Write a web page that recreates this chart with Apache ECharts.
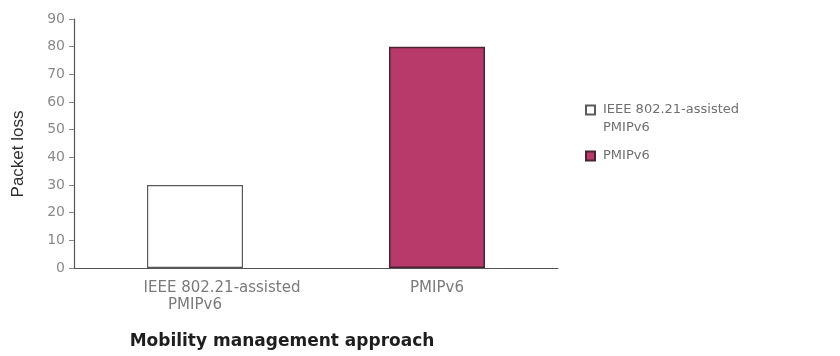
<!DOCTYPE html>
<html>
<head>
<meta charset="utf-8">
<script src="https://cdn.jsdelivr.net/npm/echarts@6/dist/echarts.min.js"></script>
<style>
  html, body { margin: 0; padding: 0; background: #fff; }
  #chart { width: 840px; height: 356px; }
</style>
</head>
<body>
<div id="chart"></div>
<script>
// Packet loss per mobility management approach
const categories = ['IEEE 802.21-assisted\nPMIPv6', 'PMIPv6'];
const seriesNames = ['IEEE 802.21-assisted\nPMIPv6', 'PMIPv6'];
const assistedValues = [30, '-'];
const pmipValues = ['-', 80];
const yTicks = { min: 0, max: 90, interval: 10 };
const axisTitles = { x: 'Mobility management approach', y: 'Packet loss' };

const chart = echarts.init(document.getElementById('chart'), null, { renderer: 'canvas' });

const labelFont = { fontFamily: 'DejaVu Sans', color: '#7a7a7a' };

chart.setOption({
  backgroundColor: '#ffffff',
  animation: false,
  grid: { left: 74, right: 282, top: 19, bottom: 88 },
  legend: {
    orient: 'vertical',
    left: 585,
    top: 83,
    padding: 0,
    itemWidth: 9,
    itemHeight: 9,
    itemGap: 10,
    icon: 'rect',
    textStyle: { color: '#6f6f6f', fontFamily: 'DejaVu Sans', fontSize: 13, lineHeight: 18, padding: [0, 0, 0, 3] },
    // a wrapped entry gets a blank leading line so its first line sits level with the swatch
    formatter: function (name) {
      return name.indexOf('\n') >= 0 ? '\n' + name : name;
    },
    data: seriesNames
  },
  xAxis: {
    type: 'category',
    data: categories,
    axisLine: { show: true, lineStyle: { color: '#555', width: 1.2 } },
    axisTick: { show: false },
    axisLabel: {
      ...labelFont,
      fontSize: 15,
      lineHeight: 17,
      margin: 12,
      interval: 0,
      formatter: function (value) {
        const lines = value.split('\n');
        if (lines.length === 1) return value;
        return '{a|' + lines[0] + '}\n{b|' + lines[1] + '}';
      },
      rich: {
        a: { ...labelFont, fontSize: 15, lineHeight: 17, padding: [0, 0, 0, 54] },
        b: { ...labelFont, fontSize: 15, lineHeight: 17 }
      }
    }
  },
  yAxis: {
    type: 'value',
    min: yTicks.min,
    max: yTicks.max,
    interval: yTicks.interval,
    splitLine: { show: false },
    axisLine: { show: true, lineStyle: { color: '#555', width: 1.2 } },
    axisTick: { show: true, length: 5, inside: false, lineStyle: { color: '#888' } },
    axisLabel: { color: '#8a8a8a', fontFamily: 'DejaVu Sans', fontSize: 14, margin: 9 }
  },
  series: [
    {
      name: seriesNames[0],
      type: 'bar',
      stack: 'total',
      barWidth: 96,
      data: assistedValues,
      itemStyle: { color: '#ffffff', borderColor: '#5a5a5a', borderWidth: 1.2 }
    },
    {
      name: seriesNames[1],
      type: 'bar',
      stack: 'total',
      barWidth: 96,
      data: pmipValues,
      itemStyle: { color: '#b83a6b', borderColor: '#4a2432', borderWidth: 1.5 }
    }
  ],
  graphic: [
    {
      type: 'text',
      x: 18,
      y: 154,
      rotation: Math.PI / 2,
      style: {
        text: axisTitles.y,
        fill: '#2e2e2e',
        font: '17px "Liberation Sans"',
        align: 'center',
        verticalAlign: 'middle'
      }
    },
    {
      type: 'text',
      x: 282,
      y: 342,
      style: {
        text: axisTitles.x,
        fill: '#1e1e1e',
        font: 'bold 17px "DejaVu Sans"',
        align: 'center',
        verticalAlign: 'middle'
      }
    }
  ]
});
</script>
</body>
</html>
